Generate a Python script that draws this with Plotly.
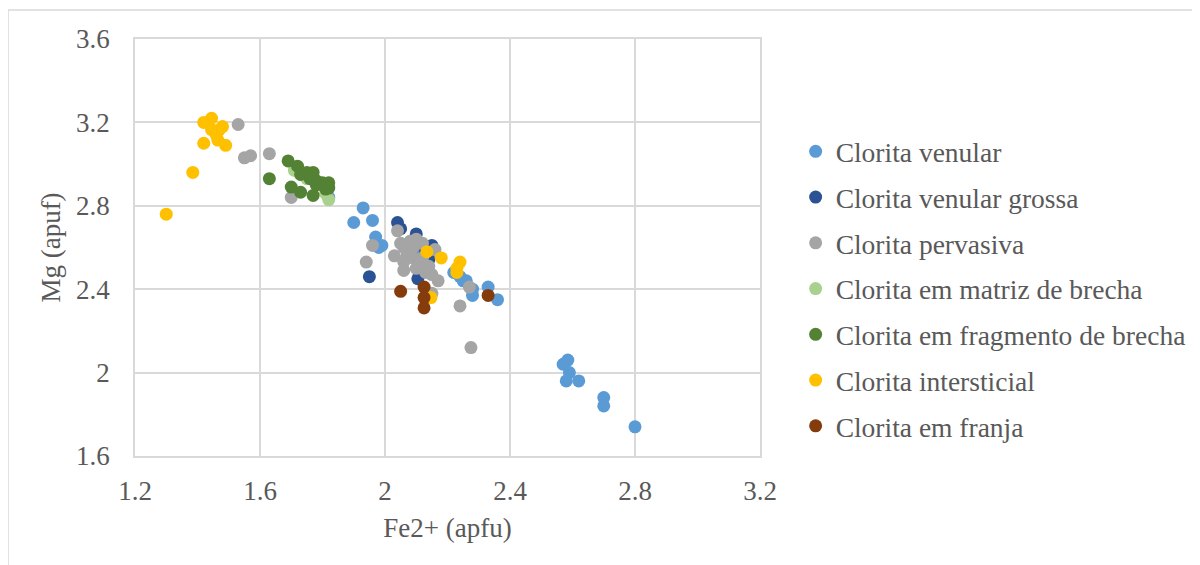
import plotly.graph_objects as go

# ---- data (Fe2+ apfu, Mg apuf) ----
venular_x = [2.80, 2.70, 2.70, 2.62, 2.58, 2.57, 2.585, 2.59,
             1.93, 1.90, 1.96, 1.97, 1.99, 1.98, 1.82,
             2.22, 2.26, 2.28, 2.33, 2.36, 2.28, 2.12, 2.14, 2.24, 2.25]
venular_y = [1.74, 1.88, 1.84, 1.96, 1.96, 2.04, 2.06, 2.00,
             2.79, 2.72, 2.73, 2.65, 2.61, 2.60, 2.84,
             2.48, 2.44, 2.40, 2.41, 2.35, 2.37, 2.58, 2.55, 2.46, 2.44]

grossa_x = [1.95, 2.04, 2.05, 2.10, 2.15, 2.13, 2.11, 2.105, 2.14, 2.12, 2.09]
grossa_y = [2.46, 2.72, 2.69, 2.665, 2.61, 2.58, 2.48, 2.45, 2.54, 2.52, 2.60]

pervasiva_x = [1.53, 1.55, 1.57, 1.63, 1.70, 1.96, 1.94, 2.04, 2.05, 2.06,
               2.08, 2.09, 2.10, 2.12, 2.07, 2.03, 2.06, 2.09, 2.11, 2.06,
               2.10, 2.13, 2.15, 2.17, 2.15, 2.12, 2.14, 2.16, 2.24, 2.275, 2.27]
pervasiva_y = [3.19, 3.03, 3.04, 3.05, 2.84, 2.61, 2.53, 2.68, 2.62, 2.60,
               2.63, 2.60, 2.64, 2.62, 2.56, 2.56, 2.53, 2.55, 2.52, 2.49,
               2.50, 2.48, 2.47, 2.44, 2.38, 2.55, 2.51, 2.59, 2.32, 2.12, 2.41]

matriz_x = [1.71, 1.73, 1.78, 1.82, 1.81, 1.75]
matriz_y = [2.97, 2.95, 2.92, 2.83, 2.86, 2.93]

fragmento_x = [1.69, 1.72, 1.63, 1.70, 1.73, 1.77, 1.75, 1.77, 1.78, 1.80,
               1.82, 1.82, 1.73, 1.78, 1.81, 1.76]
fragmento_y = [3.015, 2.99, 2.93, 2.89, 2.865, 2.85, 2.96, 2.96, 2.92, 2.91,
               2.91, 2.885, 2.95, 2.90, 2.88, 2.93]

intersticial_x = [1.30, 1.385, 1.42, 1.42, 1.445, 1.445, 1.47, 1.48, 1.465, 1.49,
                  1.46, 2.134, 2.18, 2.23, 2.24, 2.23, 2.147]
intersticial_y = [2.76, 2.96, 3.10, 3.20, 3.22, 3.165, 3.165, 3.18, 3.115, 3.09,
                  3.14, 2.58, 2.55, 2.50, 2.53, 2.48, 2.36]

franja_x = [2.05, 2.125, 2.125, 2.125, 2.33]
franja_y = [2.39, 2.41, 2.36, 2.31, 2.37]

series = [
    ("Clorita venular", venular_x, venular_y, "#5B9BD5"),
    ("Clorita venular grossa", grossa_x, grossa_y, "#2B5294"),
    ("Clorita pervasiva", pervasiva_x, pervasiva_y, "#A5A5A5"),
    ("Clorita em matriz de brecha", matriz_x, matriz_y, "#A9D18E"),
    ("Clorita em fragmento de brecha", fragmento_x, fragmento_y, "#548235"),
    ("Clorita intersticial", intersticial_x, intersticial_y, "#FFC000"),
    ("Clorita em franja", franja_x, franja_y, "#843C0C"),
]

x_ticks = [1.2, 1.6, 2.0, 2.4, 2.8, 3.2]
x_ticklabels = ["1.2", "1.6", "2", "2.4", "2.8", "3.2"]
y_ticks = [1.6, 2.0, 2.4, 2.8, 3.2, 3.6]
y_ticklabels = ["1.6", "2", "2.4", "2.8", "3.2", "3.6"]

FONT = "Liberation Serif"
TXT = "#595959"

W, H = 1192, 557
L, T, PW, PH = 127, 31, 625, 417

fig = go.Figure()
for i, (name, xs, ys, col) in enumerate(series):
    fig.add_trace(go.Scatter(
        x=xs, y=ys, mode="markers", name=name, legendgroup=str(i),
        marker=dict(size=13, color=col, line=dict(width=0)),
    ))

grid = "#D9D9D9"
fig.update_layout(
    width=W, height=H,
    margin=dict(l=L, r=W - L - PW, t=T, b=H - T - PH, pad=0, autoexpand=False),
    paper_bgcolor="white", plot_bgcolor="white",
    font=dict(family=FONT, color=TXT, size=27),
    showlegend=True,
    legend=dict(x=1.057, y=0.789, xanchor="left", yanchor="top",
                font=dict(family=FONT, size=27.5, color=TXT),
                tracegroupgap=7, itemwidth=30, bgcolor="rgba(0,0,0,0)"),
    xaxis=dict(range=[1.2, 3.2], tickvals=x_ticks, ticktext=x_ticklabels,
               showgrid=True, gridcolor=grid, gridwidth=1.5, zeroline=False,
               showline=True, mirror=True, linecolor=grid, linewidth=1.5,
               ticks="", ticklabelstandoff=10,
               tickfont=dict(family=FONT, size=27, color=TXT),
               title=dict(text="Fe2+ (apfu)", standoff=13,
                          font=dict(family=FONT, size=27, color=TXT))),
    yaxis=dict(range=[1.6, 3.6], tickvals=y_ticks, ticktext=y_ticklabels,
               showgrid=True, gridcolor=grid, gridwidth=1.5, zeroline=False,
               showline=True, mirror=True, linecolor=grid, linewidth=1.5,
               ticks="", ticklabelstandoff=18,
               tickfont=dict(family=FONT, size=27, color=TXT),
               title=dict(text="Mg (apuf)", standoff=8,
                          font=dict(family=FONT, size=27, color=TXT))),
    shapes=[dict(type="rect", xref="paper", yref="paper",
                 x0=(0 - L) / PW, x1=(W + 10 - L) / PW,
                 y0=(T + PH - H - 10) / PH, y1=1 + (T - 2) / PH,
                 line=dict(color="#D9D9D9", width=1.5), layer="below")],
)

fig.write_html("out.html")
